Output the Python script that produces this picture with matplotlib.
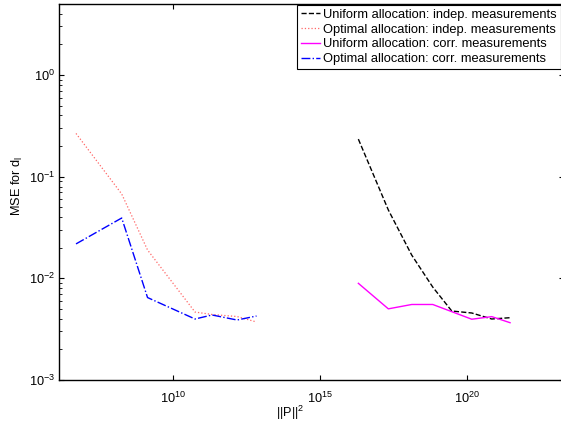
import numpy as np
import matplotlib
matplotlib.use("Agg")
import matplotlib.pyplot as plt
from matplotlib.ticker import FixedLocator, NullLocator, LogLocator, LogFormatterSciNotation

plt.rcParams['font.family'] = ['Liberation Sans', 'DejaVu Sans']
plt.rcParams['mathtext.fontset'] = 'custom'
plt.rcParams['mathtext.rm'] = 'Liberation Sans'
plt.rcParams['mathtext.it'] = 'Liberation Sans:italic'
plt.rcParams['mathtext.bf'] = 'Liberation Sans:bold'

# ---- data ----
x_left = [10**6.687, 10**8.243, 10**9.122, 10**10.739, 10**11.318, 10**12.169, 10**12.833]
x_right = [10**16.299, 10**17.320, 10**18.117, 10**18.832, 10**19.479, 10**20.160, 10**20.841, 10**21.464]

mse_uniform_indep = [0.234, 0.047, 0.0169, 0.0082, 0.00477, 0.00456, 0.00398, 0.0041]
mse_optimal_indep = [0.266, 0.0675, 0.019, 0.00466, 0.00441, 0.00421, 0.00372]
mse_uniform_corr = [0.00893, 0.00501, 0.00553, 0.00553, 0.0047, 0.00396, 0.0042, 0.00366]
mse_optimal_corr = [0.0218, 0.0392, 0.00647, 0.00398, 0.00436, 0.00389, 0.00426]

labels = ['Uniform allocation: indep. measurements',
          'Optimal allocation: indep. measurements',
          'Uniform allocation: corr. measurements',
          'Optimal allocation: corr. measurements']
xticks = [1e10, 1e15, 1e20]

W, H = 561, 421
fig = plt.figure(figsize=(W / 100, H / 100), dpi=100)
ax = fig.add_axes([59 / W, 41 / H, (564 - 59) / W, (380 - 4) / H])

ax.plot(x_right, mse_uniform_indep, color='black', ls='--', lw=1.0, label=labels[0])
ax.plot(x_left, mse_optimal_indep, color='#ff6666', ls=':', lw=0.9, label=labels[1])
ax.plot(x_right, mse_uniform_corr, color='#ff00ff', ls='-', lw=1.0, label=labels[2])
ax.plot(x_left, mse_optimal_corr, color='#0000ff', ls='-.', lw=1.0, label=labels[3])

ax.set_xscale('log')
ax.set_yscale('log')
ax.set_xlim(10**6.108, 10**23.30)
ax.set_ylim(1e-3, 10**0.698)

ax.xaxis.set_major_locator(FixedLocator(xticks))
ax.xaxis.set_minor_locator(NullLocator())
ax.xaxis.set_major_formatter(LogFormatterSciNotation())
ax.yaxis.set_major_locator(LogLocator(base=10, numticks=10))
ax.yaxis.set_minor_locator(LogLocator(base=10, subs=np.arange(2, 10), numticks=20))

ax.tick_params(which='both', direction='in', top=True, right=True, labelsize=9.2, colors='black')
ax.tick_params(which='major', length=3.6, width=0.8)
ax.tick_params(axis='x', which='major', pad=8)
ax.tick_params(axis='y', which='major', pad=3)
ax.tick_params(which='minor', length=1.9, width=0.6)
for s in ax.spines.values():
    s.set_linewidth(1.0)

ax.set_xlabel('||P||$^2$', fontsize=9.2)
ax.set_ylabel(r'MSE for d$_\mathrm{l}$', fontsize=9.2)
ax.xaxis.set_label_coords((290 - 59) / (564 - 59), -(404 - 380) / (380 - 4))
ax.yaxis.set_label_coords(-(59 - 25) / (564 - 59), (380 - 186) / (380 - 4))

leg = ax.legend(loc='upper right', bbox_to_anchor=(560.5 / W, (H - 5) / H),
                bbox_transform=fig.transFigure, fontsize=9.3, frameon=True, fancybox=False,
                framealpha=1, edgecolor='black', borderpad=0.28, labelspacing=0.22,
                handlelength=1.5, handletextpad=0.25, borderaxespad=0)
leg.get_frame().set_linewidth(0.8)

fig.savefig('out.png', dpi=100)
